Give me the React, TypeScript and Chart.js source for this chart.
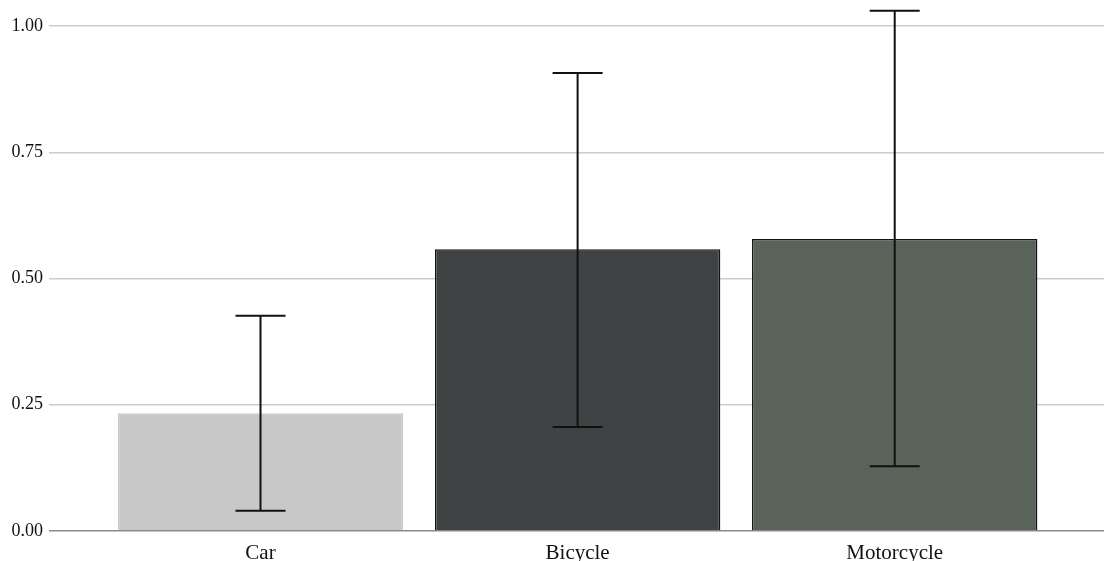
import { useEffect, useRef } from "react";
import { Chart, registerables } from "chart.js";

Chart.register(...registerables);

// Group means with their interval bounds
const categories = ["Car", "Bicycle", "Motorcycle"];
const means = [0.233, 0.558, 0.578];
const lowerBounds = [0.04, 0.206, 0.128];
const upperBounds = [0.426, 0.907, 1.03];
const yTickValues = [0, 0.25, 0.5, 0.75, 1.0];

const barFills = ["#c8c8c8", "#404344", "#59635a"];
const barEdges = ["#c8c8c8", "#141414", "#141414"];

// Draws vertical whiskers with caps at each bar's interval bounds
const errorBarPlugin = {
  id: "errorBars",
  afterDatasetsDraw(chart: any) {
    const { ctx, scales } = chart;
    const xs = scales.x;
    const ys = scales.y;
    const capHalf = 25;
    ctx.save();
    ctx.strokeStyle = "#111111";
    ctx.lineWidth = 2;
    categories.forEach((_, i) => {
      const x = xs.getPixelForValue(i);
      const yLo = ys.getPixelForValue(lowerBounds[i]);
      const yHi = ys.getPixelForValue(upperBounds[i]);
      ctx.beginPath();
      ctx.moveTo(x, yLo);
      ctx.lineTo(x, yHi);
      ctx.moveTo(x - capHalf, yHi);
      ctx.lineTo(x + capHalf, yHi);
      ctx.moveTo(x - capHalf, yLo);
      ctx.lineTo(x + capHalf, yLo);
      ctx.stroke();
    });
    ctx.restore();
  },
};

export default function App() {
  const canvasRef = useRef<HTMLCanvasElement | null>(null);

  useEffect(() => {
    document.body.style.margin = "0";
    const canvas = canvasRef.current;
    if (!canvas) return;

    const chart = new Chart(canvas, {
      type: "bar",
      data: {
        datasets: [
          {
            data: means.map((m, i) => ({ x: i, y: m })),
            backgroundColor: barFills,
            borderColor: barEdges,
            borderWidth: 1.5,
            barPercentage: 0.9,
            categoryPercentage: 1.0,
          },
        ],
      },
      options: {
        animation: false,
        responsive: false,
        devicePixelRatio: 1,
        layout: { padding: 0 },
        plugins: {
          legend: { display: false },
          tooltip: { enabled: false },
        },
        scales: {
          x: {
            type: "linear",
            offset: false,
            min: -0.667,
            max: 2.66,
            grid: { display: false },
            border: { display: false },
            afterBuildTicks(scale: any) {
              scale.ticks = categories.map((_, i) => ({ value: i }));
            },
            afterFit(scale: any) {
              scale.height = 30;
              scale.paddingLeft = 0;
              scale.paddingRight = 0;
            },
            ticks: {
              padding: 2,
              color: "#111111",
              font: { family: "'Liberation Serif', 'Times New Roman', serif", size: 21 },
              callback: (v: any) => categories[Number(v)] ?? "",
            },
          },
          y: {
            type: "linear",
            min: 0,
            max: 1.0515,
            border: { display: false },
            afterBuildTicks(scale: any) {
              scale.ticks = yTickValues.map((v) => ({ value: v }));
            },
            afterFit(scale: any) {
              scale.width = 49;
              scale.paddingTop = 0;
              scale.paddingBottom = 0;
            },
            grid: {
              drawTicks: false,
              lineWidth: 1.5,
              color: (c: any) => (c.tick && c.tick.value === 0 ? "#8a8a8a" : "#cccccc"),
            },
            ticks: {
              padding: 6,
              color: "#111111",
              font: { family: "'Liberation Serif', 'Times New Roman', serif", size: 18 },
              callback: (v: any) => Number(v).toFixed(2),
            },
          },
        },
      },
      plugins: [errorBarPlugin],
    });

    return () => chart.destroy();
  }, []);

  return (
    <div style={{ position: "absolute", left: 0, top: 0, width: 1104, height: 561, background: "#ffffff" }}>
      <canvas ref={canvasRef} width={1104} height={561} />
    </div>
  );
}
